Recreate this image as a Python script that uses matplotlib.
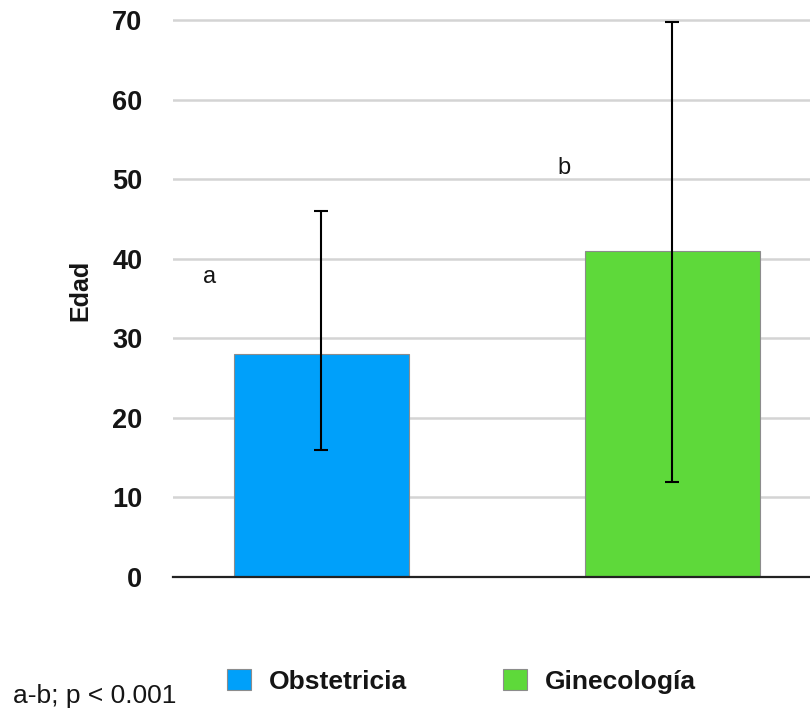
import matplotlib
matplotlib.use("Agg")
import matplotlib.pyplot as plt

plt.rcParams['font.family'] = ['Liberation Sans', 'DejaVu Sans']

# Mean age per service with lower / upper error extents
categories = ["Obstetricia", "Ginecología"]
means = [28.0, 41.0]
err_low = [12.0, 29.0]
err_high = [18.0, 28.7]
colors = ["#00A0FA", "#5ED93A"]
sig_letters = ["a", "b"]
sig_letter_pos = [(-0.32, 36.9), (0.69, 50.7)]
yticks = [0, 10, 20, 30, 40, 50, 60, 70]
footnote = "a-b; p < 0.001"

W, H = 810, 719
fig = plt.figure(figsize=(W / 100, H / 100), dpi=100)

x0_px, y0_px = 173, 577          # axes left / baseline
px_per_unit = (577 - 20) / 70.0
ytop = 72
ax_bottom = 1 - y0_px / H
ax_top = 1 - (y0_px - ytop * px_per_unit) / H
ax = fig.add_axes([x0_px / W, ax_bottom, 1 - x0_px / W, ax_top - ax_bottom])

txt = "#151515"
xs = list(range(len(categories)))
bars = ax.bar(xs, means, width=0.5, color=colors, edgecolor="#8c8c8c",
              linewidth=0.8, zorder=3)
ax.errorbar(xs, means, yerr=[err_low, err_high], fmt="none", ecolor="black",
            elinewidth=1.5, capsize=5, capthick=1.5, zorder=4)

for letter, (lx, ly) in zip(sig_letters, sig_letter_pos):
    ax.text(lx, ly, letter, fontsize=17, color=txt, ha="center", va="baseline")

ax.set_xlim(-0.423, 1.392)
ax.set_ylim(0, ytop)
ax.set_yticks(yticks)
ax.set_yticklabels([str(t) for t in yticks], fontsize=19.5, fontweight="bold", color=txt)
ax.set_xticks([])
ax.tick_params(axis="y", length=0, pad=22)
ax.yaxis.grid(True, color="#d4d4d4", linewidth=1.8, zorder=0)
ax.set_axisbelow(True)
for s in ["left", "right", "top"]:
    ax.spines[s].set_visible(False)
ax.spines["bottom"].set_color("#222222")
ax.spines["bottom"].set_linewidth(1.6)
ax.spines["bottom"].set_zorder(5)

ax.set_ylabel("Edad", fontsize=18, fontweight="bold", color=txt, labelpad=14)

leg = fig.legend(handles=list(bars), labels=categories, loc="center left",
                 bbox_to_anchor=(227 / W, 1 - 681.5 / H), ncol=2, frameon=False,
                 prop={"size": 19, "weight": "bold"}, handlelength=0.91, handleheight=0.87,
                 handletextpad=0.68, columnspacing=3.64, borderpad=0, borderaxespad=0)
for t in leg.get_texts():
    t.set_color(txt)

fig.text(13 / W, 1 - 703 / H, footnote, fontsize=19, color=txt, va="baseline")

fig.savefig("out.png", dpi=100)
